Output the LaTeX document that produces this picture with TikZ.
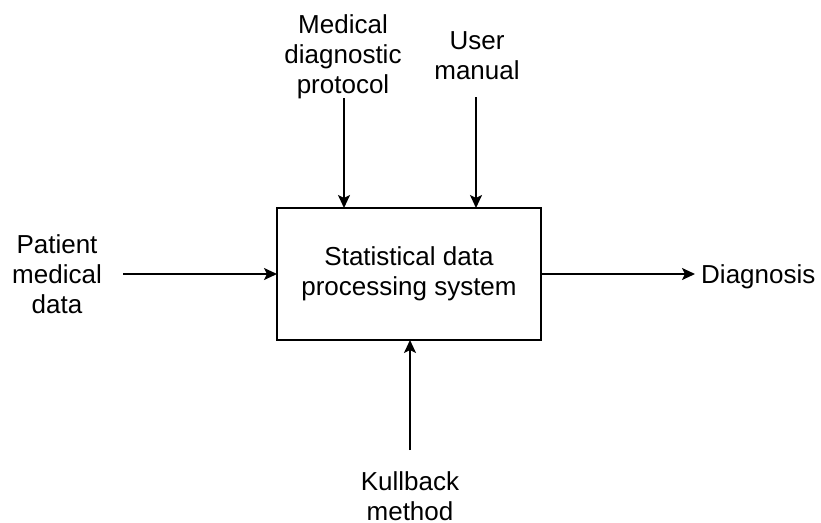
\documentclass[tikz,border=0pt]{standalone}
\usepackage{fontspec}
\setmainfont{Liberation Sans}
\usetikzlibrary{arrows.meta}
\begin{document}
\begin{tikzpicture}[x=1pt,y=-1pt,
  lbl/.style={inner sep=0pt, align=center, font=\fontsize{26}{30}\selectfont},
  procbox/.style={draw, line width=2pt, minimum width=264pt, minimum height=132pt, inner sep=0pt, outer sep=0pt, align=center, font=\fontsize{26}{30}\selectfont},
  arr/.style={line width=2pt, -{Stealth[length=13pt,width=12pt,inset=3pt]}}]
\useasboundingbox (0,0) rectangle (821,522);
\node[procbox] (box) at (409,274) {Statistical data\\processing system};
\node[lbl] (med) at (343,57) {Medical\\diagnostic\\protocol};
\node[lbl] (usr) at (477,56) {User\\manual};
\node[lbl] (pat) at (57,274) {Patient\\medical\\data};
\node[lbl] (kul) at (410,496) {Kullback\\method};
\node[lbl, anchor=base west] (diag) at (701,283) {Diagnosis};
\coordinate (m1) at (344,98);
\coordinate (u1) at (476,97);
\coordinate (p1) at (123,274);
\coordinate (k1) at (410,450);
\draw[arr] (m1) -- (m1 |- box.north);
\draw[arr] (u1) -- (u1 |- box.north);
\draw[arr] (p1) -- (box.west);
\draw[arr] (k1) -- (k1 |- box.south);
\draw[arr] (box.east) -- ([xshift=-6pt]box.east -| diag.west);
\end{tikzpicture}
\end{document}
